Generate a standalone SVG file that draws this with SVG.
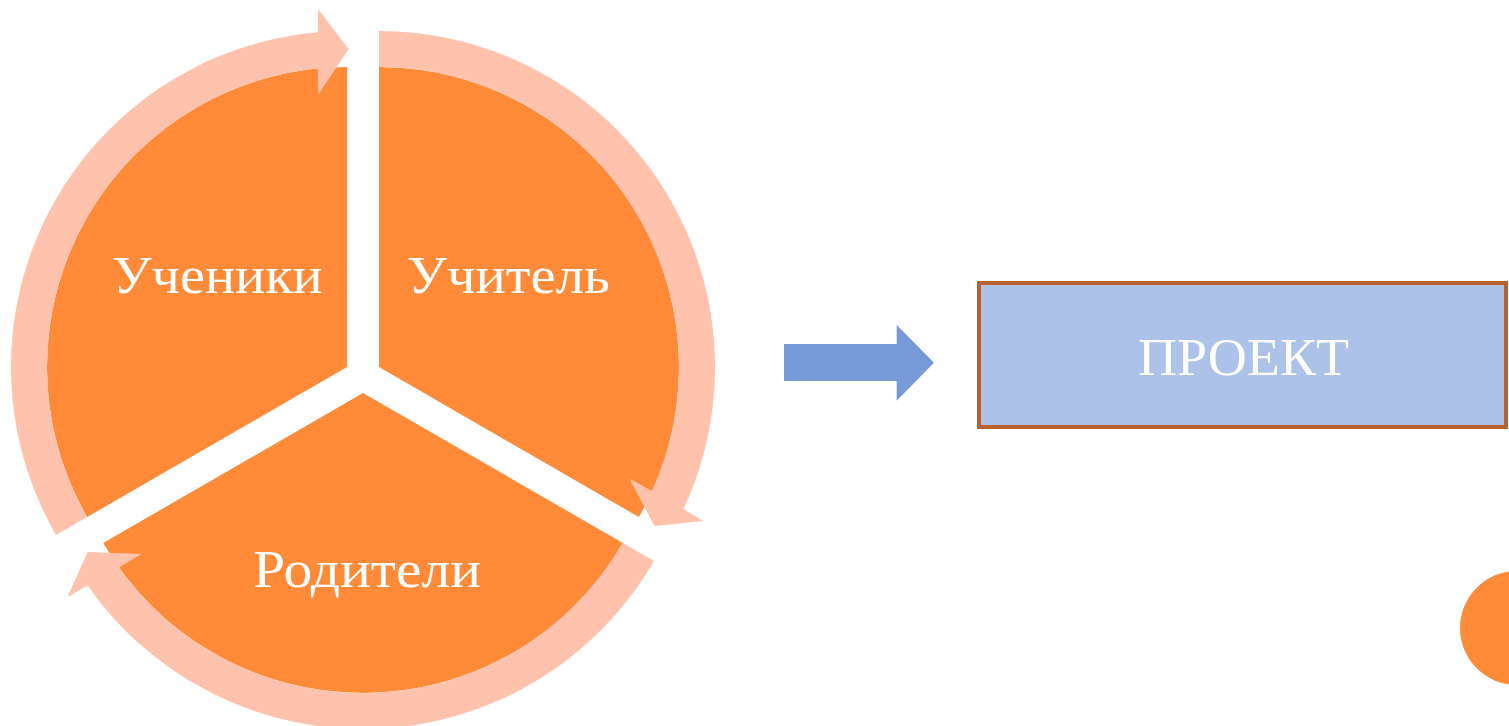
<svg xmlns="http://www.w3.org/2000/svg" width="1509" height="726" viewBox="0 0 1509 726">
  <style>
    .sector { fill: #FF8A38; }
    .ring { fill: #FFC2AC; }
    .lbl { font-family: "Liberation Serif", "Times New Roman", serif; font-size: 53px; fill: #FFFFFF; text-anchor: middle; }
  </style>
  <rect width="1509" height="726" fill="#FFFFFF"/>

  <g id="node-ucheniki">
    <path class="sector" d="M 347 367 L 87.19 517 A 300 300 0 0 1 347 67 Z"/>
    <text class="lbl" x="217.2" y="293" textLength="211" lengthAdjust="spacingAndGlyphs">Ученики</text>
  </g>

  <g id="node-uchitel">
    <path class="sector" d="M 379 367 L 379 67 A 300 300 0 0 1 638.81 517 Z"/>
    <text class="lbl" x="508.3" y="293" textLength="203" lengthAdjust="spacingAndGlyphs">Учитель</text>
  </g>

  <g id="node-roditeli">
    <path class="sector" d="M 363 393 L 622.81 543 A 300 300 0 0 1 103.19 543 Z"/>
    <text class="lbl" x="367" y="587" textLength="228" lengthAdjust="spacingAndGlyphs">Родители</text>
  </g>

  <g id="cycle-arrows">
    <path class="ring" d="M 56.02 535 A 336 336 0 0 1 317.83 32.27 L 318.21 9.16 L 348.7 49 L 318.36 94.5 L 317.88 68.42 A 300 300 0 0 0 87.19 517 Z"/>
    <path class="ring" d="M 379 31 A 336 336 0 0 1 683.48 509.11 L 703.3 520.99 L 654.4 526 L 629.31 478.45 L 652.14 491.09 A 300 300 0 0 0 379 67 Z"/>
    <path class="ring" d="M 653.98 561 A 336 336 0 0 1 87.59 585.5 L 67.49 596.88 L 87.6 552 L 141.33 554.05 L 118.97 567.5 A 300 300 0 0 0 622.81 543 Z"/>
  </g>

  <g id="connectors">
    <path fill="#7799D8" d="M 784 344 L 896.7 344 L 896.7 325 L 934 362.7 L 896.7 400.7 L 896.7 381 L 784 381 Z"/>
  </g>

  <g id="node-proekt">
    <rect x="979" y="283" width="527" height="144" fill="#ADC2E8" stroke="#B8612E" stroke-width="4"/>
    <text class="lbl" x="1243.5" y="375" textLength="211" lengthAdjust="spacingAndGlyphs">ПРОЕКТ</text>
  </g>

  <g id="corner-dot">
    <circle cx="1517" cy="628" r="57" fill="#FF8A38"/>
  </g>
</svg>
